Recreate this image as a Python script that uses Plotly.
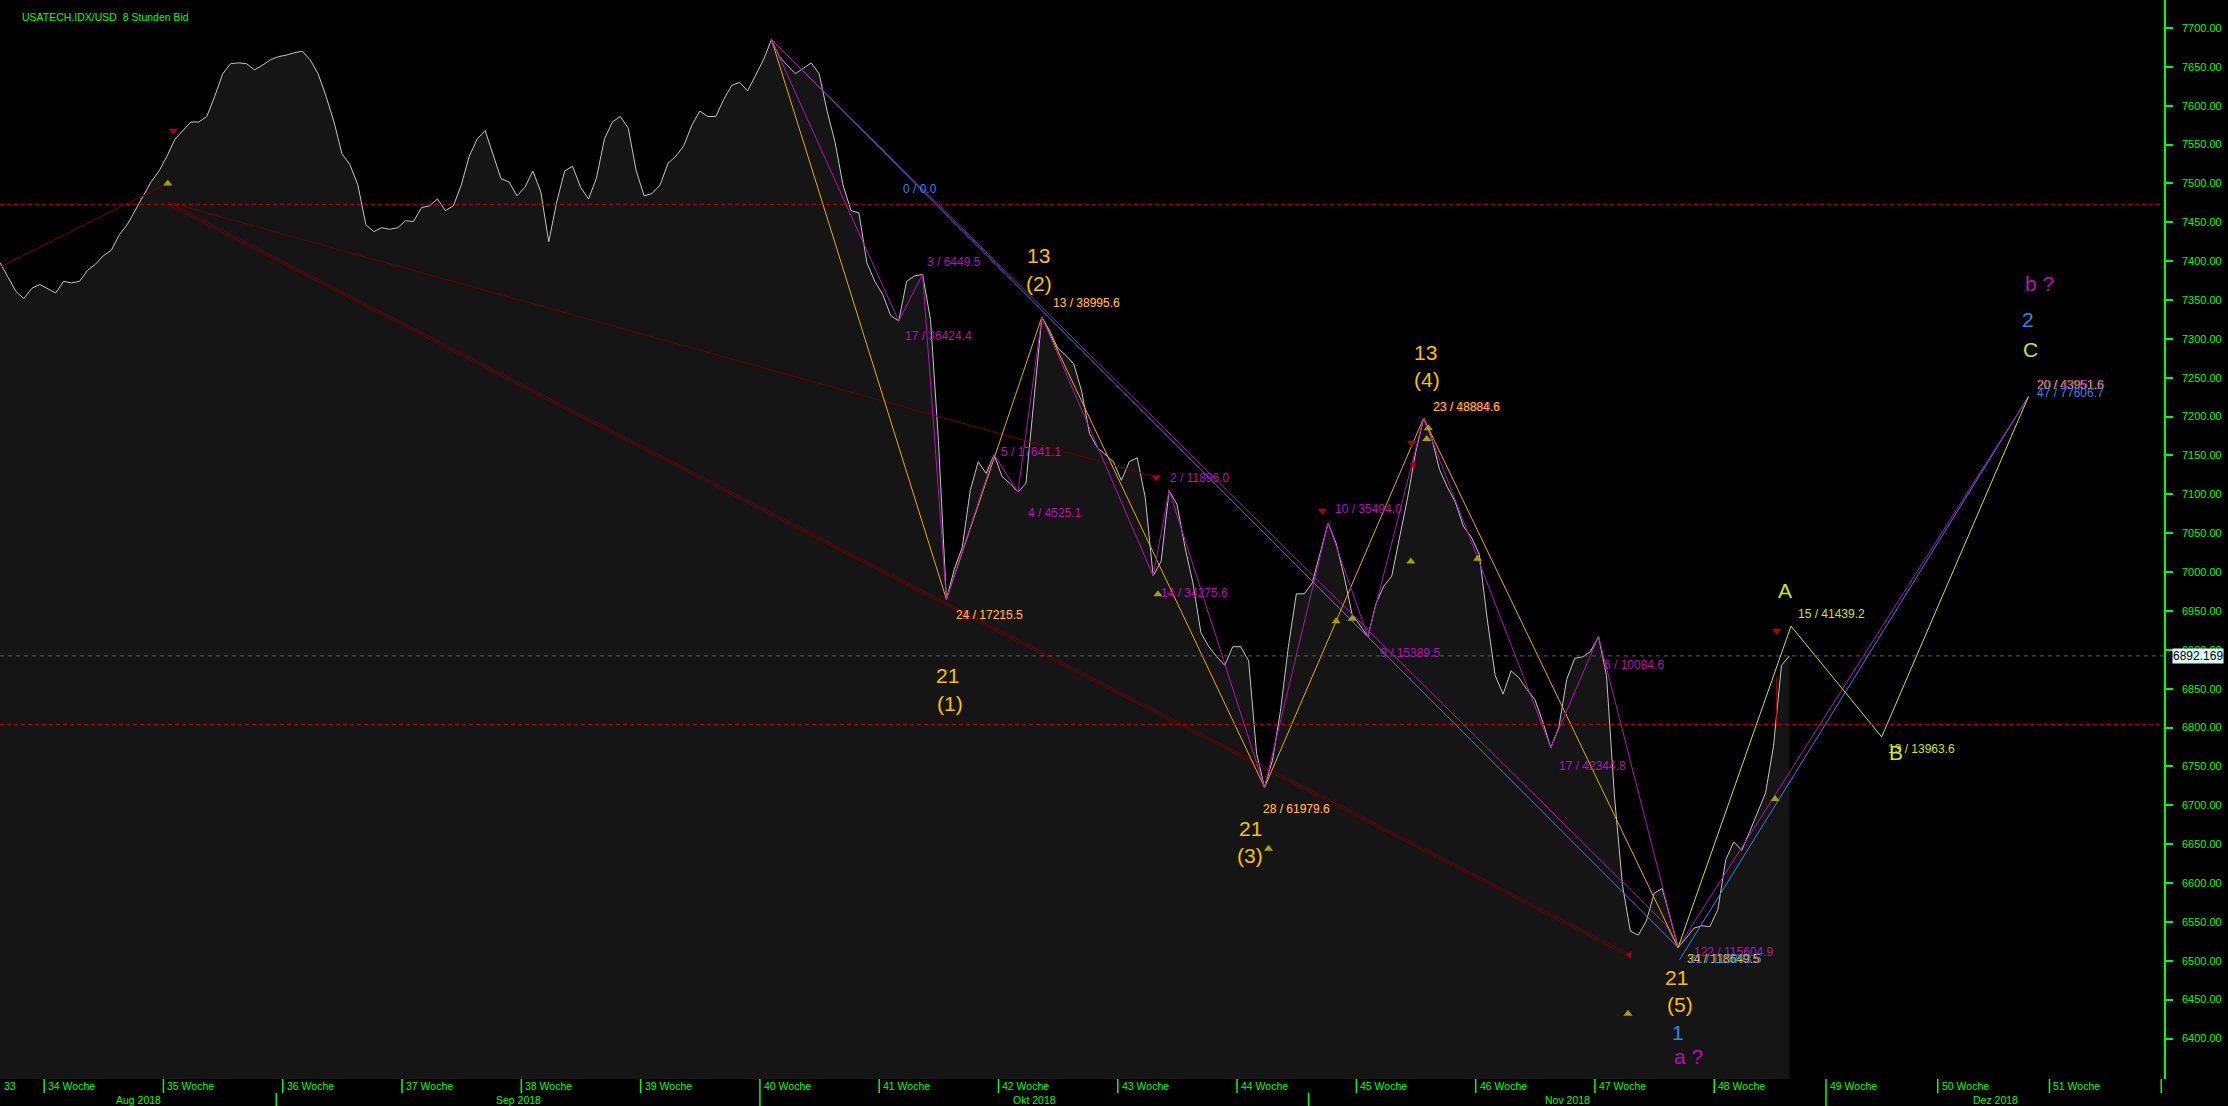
import plotly.graph_objects as go

# ---------------- data (8-hour bars) ----------------
TITLE = "USATECH.IDX/USD  8 Stunden Bid"
price = [
    7398, 7379, 7361, 7352, 7365, 7370, 7365, 7359, 7374, 7372,
    7374, 7388, 7396, 7407, 7414, 7434, 7447, 7465, 7484, 7502,
    7516, 7535, 7557, 7568, 7579, 7579, 7586, 7612, 7641, 7654,
    7655, 7654, 7646, 7652, 7659, 7663, 7665, 7668, 7670, 7659,
    7641, 7612, 7579, 7538, 7524, 7498, 7447, 7438, 7443, 7441,
    7443, 7452, 7451, 7469, 7471, 7480, 7465, 7471, 7498, 7535,
    7557, 7568, 7538, 7506, 7502, 7484, 7495, 7516, 7489, 7425,
    7476, 7516, 7522, 7495, 7480, 7507, 7557, 7579, 7586, 7571,
    7516, 7484, 7487, 7498, 7526, 7535, 7549, 7575, 7593, 7586,
    7586, 7608, 7626, 7630, 7619, 7639, 7659, 7685, 7663, 7652,
    7641, 7648, 7655, 7641, 7593, 7553, 7498, 7465, 7462, 7398,
    7374, 7357, 7330, 7323, 7374, 7381, 7383, 7325, 7169, 6965,
    7004, 7032, 7105, 7142, 7127, 7151, 7123, 7114, 7103, 7114,
    7224, 7328, 7310, 7288, 7279, 7268, 7233, 7178, 7160, 7151,
    7142, 7118, 7142, 7147, 7096, 6995, 7014, 7105, 7087, 7032,
    6986, 6922, 6904, 6891, 6880, 6904, 6904, 6886, 6767, 6723,
    6758, 6821, 6904, 6972, 6972, 6986, 7023, 7063, 7037, 6995,
    6946, 6931, 6917, 6959, 6982, 6995, 7045, 7096, 7154, 7198,
    7173, 7132, 7109, 7090, 7059, 7045, 7023, 6940, 6867, 6843,
    6873, 6864, 6849, 6836, 6807, 6774, 6800, 6862, 6889, 6891,
    6898, 6917, 6867, 6712, 6598, 6538, 6533, 6551, 6587, 6593,
    6556, 6517, 6529, 6542, 6545, 6544, 6566, 6630, 6653, 6642,
    6666, 6690, 6716, 6776, 6880, 6892.169,
]
bars = list(range(len(price)))
last_price = 6892.169

# primary wave pivots (indexes into price) and sub-wave pivots
wave_idx = [97, 119, 131, 159, 179, 211]
sub_idx = [97, 113, 116, 119, 125, 128, 131, 145, 147, 159, 167, 172, 179, 195, 201, 211]

# projected A-B-C path (bar, price)
abc_bar = [211, 225.2, 236.6, 255.05]
abc_price = [6517, 6930.5, 6788, 7225.6]

# channel lines (bar, price)
blue_down_bar, blue_down_price = [97, 211], [7685, 6517]
blue_up_bar, blue_up_price = [211.2, 255.05], [6501.5, 7225.6]
mag_down_bar, mag_down_price = [97, 209.5, 211], [7685, 6546, 6517]
mag_up_bar, mag_up_price = [211, 255.05], [6517, 7225.6]

# dark red trend lines
red1_bar, red1_price = [21.1, 204.8], [7476, 6508.8]
red2_bar, red2_price = [21.1, 145.6], [7476, 7121.5]
red3_bar, red3_price = [0, 21.1], [7392, 7500]
red4_bar, red4_price = [223.4, 223.4], [6865.5, 6801]

# horizontal levels
red_levels = [7473, 6804]

# signal markers (bar, price)
dn_red_bar = [21.8, 166.3, 177.5, 223.4, 145.4]
dn_red_price = [7567.7, 7079, 7166.4, 6924.2, 7121.5]
up_yel_bar = [21.1, 179.4, 179.6, 177.4, 168.0, 170.0, 145.6, 185.8, 204.7, 223.2, 159.5]
up_yel_price = [7500, 7171.2, 7185, 7013.6, 6936.8, 6940, 6971.5, 7017.2, 6431.8, 6708.2, 6644]
left_red_bar = [177.7, 204.9]
left_red_price = [7137.7, 6507.7]

# axis / calendar labels
ytick_vals = [6400 + 50 * k for k in range(27)]
week_nums = list(range(33, 53))
month_names = ["Aug 2018", "Sep 2018", "Okt 2018", "Nov 2018", "Dez 2018"]
month_start = [0, 34.74, 95.55, 164.55, 229.6]

# ---------------- styling ----------------
GREEN = "#00ff00"
AMBER = "#ffbf00"
MAG = "#b414b4"
BLUE = "#3a80e8"
LIME = "#c8e628"
DRED = "#6e0000"
FONT = "Liberation Sans"
X_MAX = 272.1
PLOT_H = 1079.0


def week_start(k):
    if k <= 48:
        return 5.55 + 15 * (k - 34)
    return 215.55 + 14.05 * (k - 48)


fig = go.Figure()

# price area
fig.add_trace(go.Scatter(x=bars, y=price, mode="lines", line=dict(color="#c4c4c4", width=1),
                         fill="tozeroy", fillcolor="#151515", hoverinfo="skip"))

# horizontal levels
for lv in red_levels:
    fig.add_shape(type="line", xref="x", yref="y", x0=0, x1=X_MAX, y0=lv, y1=lv,
                  line=dict(color="#c00000", width=1, dash="4px,3px"))
fig.add_shape(type="line", xref="x", yref="y", x0=0, x1=X_MAX, y0=last_price, y1=last_price,
              line=dict(color="#5a5a5a", width=1, dash="4px,4px"))


def line(xs, ys, color, width=1):
    fig.add_trace(go.Scatter(x=xs, y=ys, mode="lines", line=dict(color=color, width=width),
                             hoverinfo="skip"))


# dark red trend lines
line(red1_bar, red1_price, DRED)
line(red1_bar, [p - 3 for p in red1_price], DRED)
line(red2_bar, red2_price, DRED)
line(red3_bar, red3_price, DRED)
line(red4_bar, red4_price, "#b00000")

# channels
line(blue_down_bar, blue_down_price, BLUE)
line(mag_down_bar, mag_down_price, MAG)
line(blue_up_bar, blue_up_price, BLUE)
line(mag_up_bar, mag_up_price, MAG)

# zigzags
line([bars[i] for i in wave_idx], [price[i] for i in wave_idx], "#e8ac00")
line([bars[i] for i in sub_idx], [price[i] for i in sub_idx], MAG)
line(abc_bar, abc_price, LIME)

# markers
fig.add_trace(go.Scatter(x=dn_red_bar, y=dn_red_price, mode="markers",
                         marker=dict(symbol="triangle-down", size=8, color="#b00000"), hoverinfo="skip"))
fig.add_trace(go.Scatter(x=up_yel_bar, y=up_yel_price, mode="markers",
                         marker=dict(symbol="triangle-up", size=8, color="#a8a000"), hoverinfo="skip"))
fig.add_trace(go.Scatter(x=left_red_bar, y=left_red_price, mode="markers",
                         marker=dict(symbol="triangle-left", size=7, color="#b00000"), hoverinfo="skip"))

ann = []


def lbl(text, x, y, color, size=12, xanchor="left"):
    ann.append(dict(text=text, x=x, y=y, xref="x", yref="y", showarrow=False,
                    xanchor=xanchor, yanchor="middle", font=dict(color=color, size=size, family=FONT)))


# pivot value labels
lbl("0 / 0.0", 113.3, 7492.7, BLUE)
lbl("3 / 6449.5", 116.3, 7399.4, MAG)
lbl("17 / 36424.4", 113.5, 7304.3, MAG)
lbl("13 / 28995.6", 132.2, 7346.4, MAG)
lbl("13 / 38995.6", 132.2, 7346.4, AMBER)
lbl("5 / 17641.1", 125.6, 7154.4, MAG)
lbl("4 / 4525.1", 129.0, 7075.7, MAG)
lbl("21 / 17220.5", 120.0, 6944.8, MAG)
lbl("24 / 17215.5", 119.9, 6944.8, AMBER)
lbl("2 / 11896.0", 146.9, 7121.5, MAG)
lbl("14 / 34275.6", 145.7, 6972.6, MAG)
lbl("28 / 61972.6", 158.6, 6695.4, MAG)
lbl("28 / 61979.6", 158.5, 6695.4, AMBER)
lbl("10 / 35494.0", 167.6, 7081.2, MAG)
lbl("9 / 15389.5", 173.3, 6896.5, MAG)
lbl("23 / 28888.6", 180.0, 7212.7, MAG)
lbl("23 / 48884.6", 179.9, 7212.7, AMBER)
lbl("6 / 10084.6", 201.4, 6880, MAG)
lbl("17 / 42344.8", 195.8, 6750.2, MAG)
lbl("122 / 115604.9", 212.7, 6511.2, MAG)
lbl("34 / 118649.5", 211.9, 6501.9, AMBER)
lbl("21 / 115893.5", 212.1, 6501.9, BLUE)
lbl("15 / 41439.2", 225.8, 6946.6, LIME)
lbl("13 / 13963.6", 237.1, 6772, LIME)
lbl("20 / 43951.6", 255.9, 7240.5, LIME)
lbl("20 / 43951.6", 256.0, 7240.5, MAG)
lbl("47 / 77606.7", 255.9, 7230.5, BLUE)

# wave labels
for txt, x, y, c in [
    ("13", 130.6, 7407.8, AMBER), ("(2)", 130.6, 7371.4, AMBER),
    ("21", 119.2, 6866.4, AMBER), ("(1)", 119.4, 6831.2, AMBER),
    ("21", 157.2, 6669.8, AMBER), ("(3)", 157.2, 6635.0, AMBER),
    ("13", 179.3, 7282.7, AMBER), ("(4)", 179.4, 7247.1, AMBER),
    ("21", 210.8, 6478.7, AMBER), ("(5)", 211.2, 6444.3, AMBER),
    ("1", 211.0, 6407.9, BLUE), ("a ?", 212.3, 6377.4, MAG),
    ("A", 224.4, 6976.6, LIME), ("B", 238.4, 6767.3, LIME),
    ("b ?", 256.5, 7371.4, MAG), ("2", 255.0, 7325.5, BLUE), ("C", 255.3, 7286.4, LIME),
]:
    lbl(txt, x, y, c, size=21, xanchor="center")

# title
ann.append(dict(text=TITLE, x=20 / 2164, y=1 - 17 / PLOT_H, xref="paper", yref="paper",
                showarrow=False, xanchor="left", yanchor="middle",
                font=dict(color=GREEN, size=10.5, family=FONT)))

# last price box
ann.append(dict(text=f"{last_price:.3f}", x=1, y=last_price, xref="paper", yref="y", showarrow=False,
                xanchor="left", yanchor="middle", xshift=8, bgcolor="#dcfcfc", borderpad=0,
                font=dict(color="black", size=12, family=FONT)))

# calendar rows below the plot
r1 = -14 / PLOT_H
r2 = -27 / PLOT_H
shapes = []
shapes.append(dict(type="line", xref="paper", yref="paper", x0=0, x1=2228 / 2164, y0=0, y1=0,
                   line=dict(color=GREEN, width=1.5)))
shapes.append(dict(type="line", xref="paper", yref="paper", x0=0, x1=2162 / 2164, y0=r1, y1=r1,
                   line=dict(color=GREEN, width=1.5)))
shapes.append(dict(type="line", xref="paper", yref="paper", x0=1, x1=1, y0=r2, y1=0,
                   line=dict(color=GREEN, width=1.5)))
for k in week_nums:
    ws = week_start(k)
    if 0 < ws <= X_MAX:
        shapes.append(dict(type="line", xref="x", yref="paper", x0=ws, x1=ws, y0=r1, y1=0,
                           line=dict(color=GREEN, width=1.5)))
    if 0 < ws < X_MAX - 3:
        ann.append(dict(text=f"{k} Woche", x=ws, y=r1 / 2, xref="x", yref="paper", showarrow=False,
                        xanchor="left", yanchor="middle", xshift=2,
                        font=dict(color=GREEN, size=10.5, family=FONT)))
ann.append(dict(text=str(week_nums[0]), x=0, y=r1 / 2, xref="x", yref="paper", showarrow=False,
                xanchor="left", yanchor="middle", xshift=2, font=dict(color=GREEN, size=10.5, family=FONT)))
m_edges = month_start + [X_MAX]
for i, name in enumerate(month_names):
    if i > 0:
        shapes.append(dict(type="line", xref="x", yref="paper", x0=month_start[i], x1=month_start[i],
                           y0=r2, y1=r1, line=dict(color=GREEN, width=1.5)))
    ann.append(dict(text=name, x=(m_edges[i] + m_edges[i + 1]) / 2, y=(r1 + r2) / 2, xref="x",
                    yref="paper", showarrow=False, xanchor="center", yanchor="middle",
                    font=dict(color=GREEN, size=10.5, family=FONT)))

fig.update_layout(
    width=2228, height=1106,
    margin=dict(l=0, r=64, t=0, b=27, autoexpand=False),
    paper_bgcolor="black", plot_bgcolor="black",
    showlegend=False,
    xaxis=dict(range=[0, X_MAX], showgrid=False, zeroline=False, showticklabels=False,
               ticks="", showline=False, automargin=False),
    yaxis=dict(range=[6347.9, 7735.9], side="right", tickvals=ytick_vals, tickformat=".2f",
               ticks="outside", ticklen=7, tickcolor=GREEN, tickwidth=1.5, showline=True,
               linecolor=GREEN, linewidth=1.5, showgrid=False, zeroline=False, automargin=False,
               ticklabelstandoff=7, tickfont=dict(color=GREEN, size=11, family=FONT)),
    annotations=ann,
    shapes=shapes,
)

fig.write_html("out.html", config={"displayModeBar": False},
               post_script="document.body.style.margin='0px';document.body.style.overflow='hidden';")
